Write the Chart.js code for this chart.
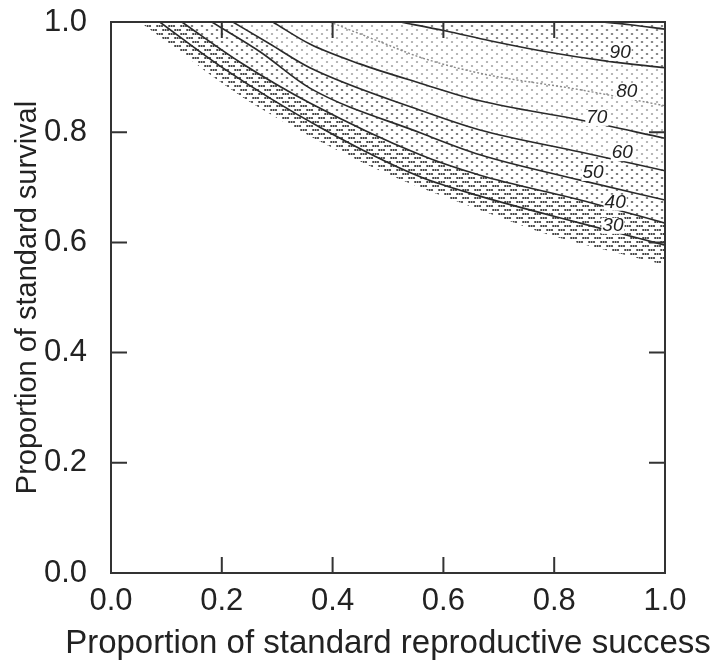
<!DOCTYPE html>
<html>
<head>
<meta charset="utf-8">
<script src="https://cdn.jsdelivr.net/npm/chart.js@4.4.1/dist/chart.umd.min.js"></script>
<style>
  html, body { margin: 0; padding: 0; background: #fff; }
  #wrap { width: 715px; height: 664px; }
</style>
</head>
<body>
<div id="wrap"><canvas id="c" width="715" height="664"></canvas></div>
<script>
// Axis ticks (both axes share the same tick values)
const tickValues = [0, 0.2, 0.4, 0.6, 0.8, 1.0];
const xTitle = 'Proportion of standard reproductive success';
const yTitle = 'Proportion of standard survival';

// Contours of the response surface: x = reproductive success, y = survival
const c30x = [0.088, 0.197, 0.377, 0.558, 0.666, 0.847, 1.0];
const c30y = [1.000, 0.920, 0.809, 0.719, 0.684, 0.635, 0.595];
const c40x = [0.128, 0.233, 0.359, 0.558, 0.666, 0.847, 1.0];
const c40y = [1.000, 0.927, 0.853, 0.759, 0.722, 0.677, 0.635];
const c50x = [0.182, 0.269, 0.359, 0.558, 0.666, 0.847, 1.0];
const c50y = [1.000, 0.946, 0.880, 0.799, 0.759, 0.713, 0.677];
const c60x = [0.220, 0.287, 0.359, 0.558, 0.666, 0.847, 1.0];
const c60y = [1.000, 0.960, 0.917, 0.840, 0.804, 0.764, 0.730];
const c70x = [0.292, 0.359, 0.449, 0.558, 0.666, 0.847, 1.0];
const c70y = [1.000, 0.960, 0.924, 0.889, 0.857, 0.822, 0.789];
const c80x = [0.395, 0.486, 0.558, 0.666, 0.847, 1.0];
const c80y = [1.000, 0.964, 0.936, 0.907, 0.877, 0.848];
const c90x = [0.522, 0.603, 0.684, 0.780, 0.895, 1.0];
const c90y = [1.000, 0.984, 0.966, 0.947, 0.929, 0.917];
const c100x = [0.888, 0.937, 1.0];
const c100y = [1.000, 0.995, 0.987];
// Outer edge of the shaded (stippled) region
const edgeX = [0.052, 0.116, 0.188, 0.265, 0.372, 0.504, 0.612, 0.684, 0.787, 0.906, 1.0];
const edgeY = [1.000, 0.953, 0.898, 0.846, 0.786, 0.722, 0.679, 0.652, 0.615, 0.583, 0.559];

// Contour labels and where they sit
const levelNames = ['90', '80', '70', '60', '50', '40', '30'];
const levelLabelX = [0.919, 0.931, 0.877, 0.923, 0.870, 0.910, 0.906];
const levelLabelY = [0.944, 0.873, 0.826, 0.762, 0.726, 0.672, 0.630];

const FONT = '"Liberation Sans", Arial, Helvetica, sans-serif';

function pts(xs, ys) { return xs.map((v, i) => ({ x: v, y: ys[i] })); }

// Stipple fills: small dots on an opaque white ground, so upper layers hide lower ones
function stipple(w, h, color, marks) {
  const cv = document.createElement('canvas');
  cv.width = w; cv.height = h;
  const g = cv.getContext('2d');
  g.fillStyle = '#fff';
  g.fillRect(0, 0, w, h);
  g.fillStyle = color;
  marks.forEach(([mx, my, rx, ry]) => {
    g.beginPath();
    g.ellipse(mx, my, rx, ry, 0, 0, Math.PI * 2);
    g.fill();
  });
  return g.createPattern(cv, 'repeat');
}
const ctx = document.getElementById('c').getContext('2d');
const darkDots = stipple(12, 8, '#333', [
  [1.2, 2, 1.1, 0.95], [3.6, 2, 1.1, 0.95], [6.0, 2, 1.1, 0.95],
  [7.2, 6, 1.1, 0.95], [9.6, 6, 1.1, 0.95], [12.0, 6, 1.1, 0.95], [0.0, 6, 1.1, 0.95]
]);
const midDots = stipple(10, 8, '#6a6a6a', [[2, 2, 1.3, 0.95], [7, 6, 1.3, 0.95]]);
const lightDots = stipple(10, 8, '#aaaaaa', [[2, 2, 1.2, 0.9], [7, 6, 1.2, 0.9]]);
const topDots = stipple(10, 8, '#7a7a7a', [[2, 2, 1.3, 0.9], [7, 6, 1.3, 0.9]]);

function contour(xs, ys, opts) {
  return Object.assign({
    data: pts(xs, ys),
    showLine: true,
    fill: false,
    borderColor: '#2a2a2a',
    borderWidth: 1.6,
    pointRadius: 0,
    cubicInterpolationMode: 'monotone'
  }, opts || {});
}
function layer(xs, ys, pattern) {
  return {
    data: pts(xs, ys),
    showLine: true,
    fill: 'end',
    backgroundColor: pattern,
    borderWidth: 0,
    borderColor: 'rgba(0,0,0,0)',
    pointRadius: 0,
    cubicInterpolationMode: 'monotone'
  };
}

// Frame, inward tick marks, contour labels and the horizontal axis title
const framePlugin = {
  id: 'frame',
  afterDatasetsDraw(chart) {
    const { ctx, chartArea: a, scales: { x, y } } = chart;
    ctx.save();
    // contour labels
    ctx.font = 'italic 19px ' + FONT;
    ctx.textAlign = 'center';
    ctx.textBaseline = 'middle';
    levelNames.forEach((t, i) => {
      const px = x.getPixelForValue(levelLabelX[i]);
      const py = y.getPixelForValue(levelLabelY[i]);
      const w = ctx.measureText(t).width;
      ctx.fillStyle = '#fff';
      ctx.fillRect(px - w / 2 - 1, py - 8, w + 2, 16);
      ctx.fillStyle = '#222';
      ctx.fillText(t, px, py);
    });
    // frame
    ctx.strokeStyle = '#333';
    ctx.lineWidth = 2;
    ctx.strokeRect(a.left, a.top, a.right - a.left, a.bottom - a.top);
    const len = 16;
    ctx.beginPath();
    tickValues.forEach(v => {
      if (v <= 0 || v >= 1) return;
      const px = x.getPixelForValue(v);
      ctx.moveTo(px, a.bottom); ctx.lineTo(px, a.bottom - len);
      ctx.moveTo(px, a.top); ctx.lineTo(px, a.top + len);
      const py = y.getPixelForValue(v);
      ctx.moveTo(a.left, py); ctx.lineTo(a.left + len, py);
      ctx.moveTo(a.right, py); ctx.lineTo(a.right - len, py);
    });
    ctx.stroke();
    // horizontal axis title, at its natural width
    ctx.font = '33px ' + FONT;
    ctx.fillStyle = '#222';
    ctx.textAlign = 'center';
    ctx.textBaseline = 'alphabetic';
    ctx.fillText(xTitle, (a.left + a.right) / 2, x.bottom - 11);
    ctx.restore();
  }
};

new Chart(ctx, {
  type: 'scatter',
  data: {
    datasets: [
      contour(c100x, c100y),
      contour(c90x, c90y),
      contour(c80x, c80y, { borderColor: '#8a8a8a', borderWidth: 1.4, borderDash: [2, 2] }),
      contour(c70x, c70y),
      contour(c60x, c60y),
      contour(c50x, c50y),
      contour(c40x, c40y),
      contour(c30x, c30y),
      // shading layers, topmost first
      layer(c90x, c90y, topDots),
      layer(c60x, c60y, lightDots),
      layer(c40x, c40y, midDots),
      layer(edgeX, edgeY, darkDots)
    ]
  },
  plugins: [framePlugin],
  options: {
    responsive: false,
    animation: false,
    events: [],
    layout: { padding: { left: 0, top: 22, right: 50, bottom: 0 } },
    plugins: {
      legend: { display: false },
      tooltip: { enabled: false },
      filler: { drawTime: 'beforeDatasetsDraw' }
    },
    scales: {
      x: {
        type: 'linear', min: 0, max: 1,
        afterBuildTicks: s => { s.ticks = tickValues.map(v => ({ value: v })); },
        afterFit: s => { s.height = 91; s.paddingLeft = 0; s.paddingRight = 0; },
        grid: { display: false, drawTicks: false },
        border: { display: false },
        ticks: {
          color: '#222', padding: 10,
          font: { family: FONT, size: 31 },
          callback: v => v.toFixed(1),
          maxRotation: 0, autoSkip: false
        },
        title: { display: false }
      },
      y: {
        type: 'linear', min: 0, max: 1,
        afterBuildTicks: s => { s.ticks = tickValues.map(v => ({ value: v })); },
        afterFit: s => { s.width = 111; s.paddingTop = 0; s.paddingBottom = 0; },
        grid: { display: false, drawTicks: false },
        border: { display: false },
        ticks: {
          color: '#222', padding: 24,
          font: { family: FONT, size: 31 },
          callback: v => v.toFixed(1),
          autoSkip: false
        },
        title: {
          display: true, text: yTitle,
          color: '#222', font: { family: FONT, size: 29 }, padding: { top: 11, bottom: 0 }
        }
      }
    }
  }
});
</script>
</body>
</html>
